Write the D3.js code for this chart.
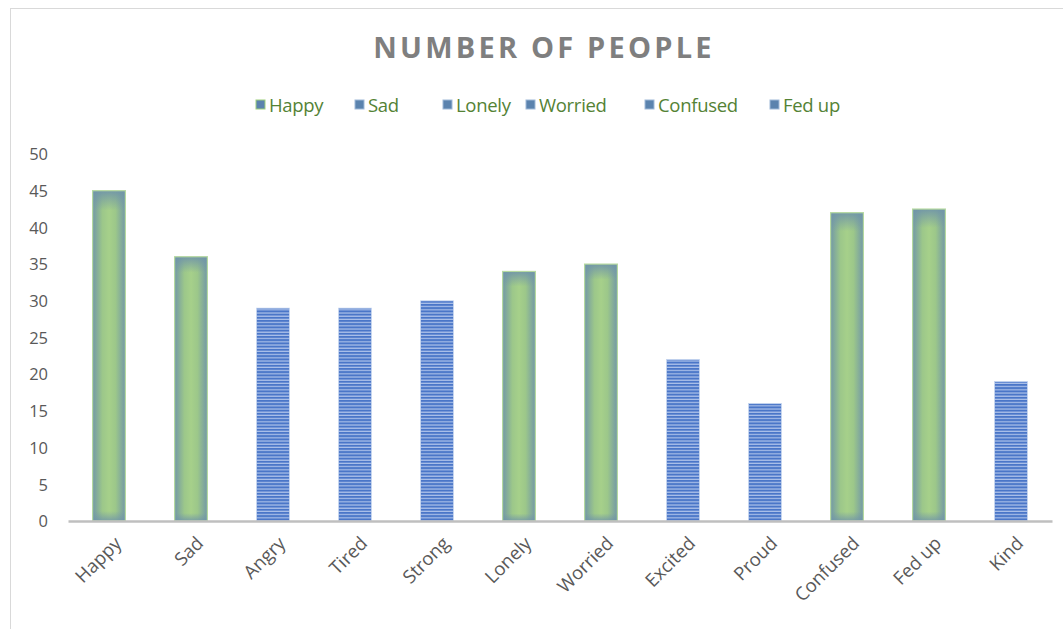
<!DOCTYPE html>
<html><head><meta charset="utf-8">
<script src="https://cdn.jsdelivr.net/npm/d3@7"></script>
<style>body{margin:0;background:#fff;font-family:"Open Sans","Liberation Sans",sans-serif}</style>
</head><body><svg id="c" width="1063" height="629"></svg>
<script>
const categories = ["Happy","Sad","Angry","Tired","Strong","Lonely","Worried","Excited","Proud","Confused","Fed up","Kind"];
const values = [45,36,29,29,30,34,35,22,16,42,42.5,19];
const styles = ["green","green","blue","blue","blue","green","green","blue","blue","green","green","blue"];
const legendLabels = ["Happy","Sad","Lonely","Worried","Confused","Fed up"];
const legendStyles = ["green","blue","blue","blue","blue","blue"];
const yTicks = [0,5,10,15,20,25,30,35,40,45,50];

const svg = d3.select("#c");
const defs = svg.append("defs");
const g1 = defs.append("linearGradient").attr("id","gGreen").attr("x1","0").attr("x2","1").attr("y1","0").attr("y2","0");
g1.append("stop").attr("offset","0").attr("stop-color","#7298a6");
g1.append("stop").attr("offset","0.3").attr("stop-color","#9cc78a");
g1.append("stop").attr("offset","0.5").attr("stop-color","#a6d08a");
g1.append("stop").attr("offset","0.7").attr("stop-color","#9cc78a");
g1.append("stop").attr("offset","1").attr("stop-color","#7298a6");
const g2 = defs.append("linearGradient").attr("id","gTop").attr("x1","0").attr("x2","0").attr("y1","0").attr("y2","1");
g2.append("stop").attr("offset","0").attr("stop-color","#6f93aa").attr("stop-opacity",0.9);
g2.append("stop").attr("offset","0.06").attr("stop-color","#6f93aa").attr("stop-opacity",0);
g2.append("stop").attr("offset","0.97").attr("stop-color","#6f93aa").attr("stop-opacity",0);
g2.append("stop").attr("offset","1").attr("stop-color","#6f93aa").attr("stop-opacity",0.8);
const pat = defs.append("pattern").attr("id","pBlue").attr("patternUnits","userSpaceOnUse").attr("width",6).attr("height",3.2);
pat.append("rect").attr("width",6).attr("height",3.2).attr("fill","#aec3ea");
pat.append("rect").attr("width",6).attr("height",2).attr("fill","#4a76c8");

// border
svg.append("rect").attr("x",10.5).attr("y",8.5).attr("width",1070).attr("height",640).attr("fill","none").attr("stroke","#d9d9d9");

const margin = {left:68, right:1052, top:154, bottom:521};
const x = d3.scaleBand().domain(categories).range([margin.left, margin.right]).paddingInner(0.6).paddingOuter(0.3);
const y = d3.scaleLinear().domain([0,50]).range([margin.bottom, margin.top]);

// title
svg.append("text").attr("x",544).attr("y",58).attr("text-anchor","middle")
  .attr("font-size",29).attr("font-weight","bold").attr("fill","#7f7f7f").attr("letter-spacing","3.2px")
  .text("NUMBER OF PEOPLE");

// legend
const legendX = [256,355,443,526,645,770];
legendLabels.forEach((l,i)=>{
  const gx = legendX[i];
  svg.append("rect").attr("x",gx).attr("y",100).attr("width",9).attr("height",9)
    .attr("fill","#5b83ae").attr("stroke", legendStyles[i]==="green" ? "#9dcf7c" : "#9fb9d8").attr("stroke-width",1);
  svg.append("text").attr("x",gx+13).attr("y",112).attr("font-size",18.5).attr("fill","#548235")
    .attr("font-family","'Open Sans',sans-serif").attr("letter-spacing","-0.3px").text(l);
});

// y axis labels
const ya = svg.append("g").attr("transform",`translate(${margin.left-20},0)`)
  .call(d3.axisLeft(y).tickValues(yTicks).tickSize(0).tickPadding(0));
ya.select(".domain").remove();
ya.selectAll("text").attr("font-size",16.5).attr("fill","#595959").attr("font-family","'Open Sans',sans-serif").attr("dy","0.35em");

// bars
const bars = svg.append("g");
categories.forEach((c,i)=>{
  const bx = x(c), bw = x.bandwidth(), by = y(values[i]), bh = y(0)-y(values[i]);
  if (styles[i]==="green") {
    bars.append("rect").attr("x",bx).attr("y",by).attr("width",bw).attr("height",bh).attr("fill","url(#gGreen)");
    bars.append("rect").attr("x",bx).attr("y",by).attr("width",bw).attr("height",bh).attr("fill","url(#gTop)")
      .attr("stroke","#b5d9a0").attr("stroke-width",1.2);
  } else {
    bars.append("rect").attr("x",bx).attr("y",by).attr("width",bw).attr("height",bh).attr("fill","url(#pBlue)")
      .attr("stroke","#c5d5ef").attr("stroke-width",0.8);
  }
});

// x axis
const xa = svg.append("g").attr("transform",`translate(0,${margin.bottom})`)
  .call(d3.axisBottom(x).tickSize(0).tickPadding(0));
xa.select(".domain").attr("stroke","#bfbfbf").attr("stroke-width",2.5);
xa.selectAll("text").attr("font-size",18.5).attr("fill","#595959").attr("font-family","'Open Sans',sans-serif")
  .attr("text-anchor","end").attr("dy","0.35em")
  .attr("transform","translate(9,19) rotate(-45)");
</script></body></html>
